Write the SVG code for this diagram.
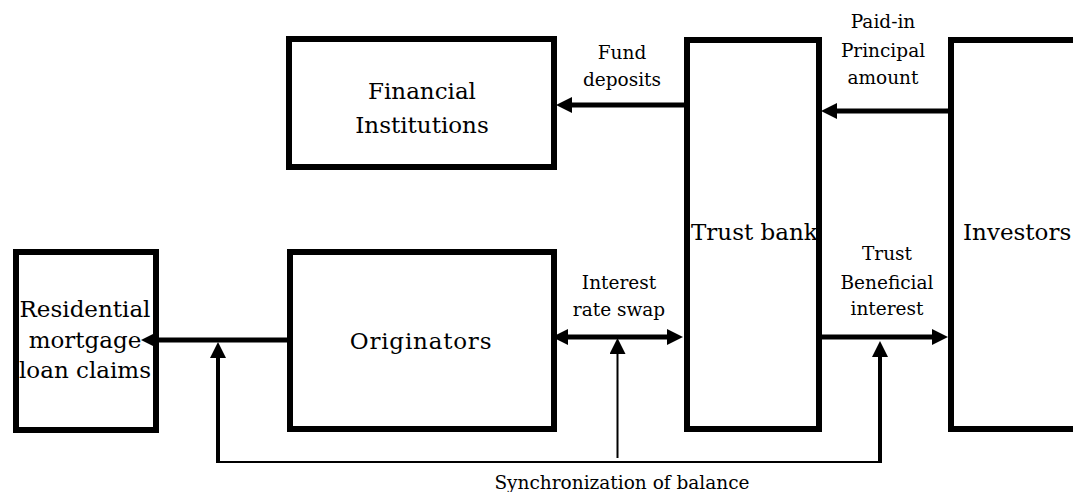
<svg xmlns="http://www.w3.org/2000/svg" width="1073" height="492" viewBox="0 0 1073 492">
<defs>
<style>
.box{fill:#fff;stroke:#000;stroke-width:6}
.big{font-family:"DejaVu Serif","Liberation Serif",serif;font-size:23px;fill:#000}
.sm{font-family:"DejaVu Serif","Liberation Serif",serif;font-size:18.5px;fill:#000;text-anchor:middle}
.c{text-anchor:middle}
.arr{fill:none;stroke:#000;stroke-width:5}
.v{fill:none;stroke:#000;stroke-width:4}
.thin{fill:none;stroke:#000;stroke-width:2}
</style>
<marker id="ah" viewBox="0 0 16 16" refX="0" refY="8" markerWidth="16" markerHeight="16" markerUnits="userSpaceOnUse" orient="auto-start-reverse">
<path d="M0,0 L16,8 L0,16 z" fill="#000"/>
</marker>
</defs>
<rect width="1073" height="492" fill="#fff"/>
<g id="residential">
<rect class="box" x="16" y="252" width="140" height="178"/>
<text class="big c" x="85" y="317" font-size="22">Residential</text>
<text class="big c" x="85" y="348" font-size="22">mortgage</text>
<text class="big c" x="85" y="378" font-size="22">loan claims</text>
</g>
<g id="originators">
<rect class="box" x="290" y="252" width="264" height="177"/>
<text class="big c" x="421" y="349" letter-spacing="0.8">Originators</text>
</g>
<g id="financial">
<rect class="box" x="289" y="39" width="265" height="128"/>
<text class="big c" x="422" y="99">Financial</text>
<text class="big c" x="422" y="133">Institutions</text>
</g>
<g id="trustbank">
<rect class="box" x="687" y="40" width="132" height="389"/>
<text class="big" x="691" y="240">Trust bank</text>
</g>
<g id="investors">
<rect class="box" x="951" y="40" width="200" height="389"/>
<text class="big" x="963" y="240" font-size="24">Investors</text>
</g>
<g id="connectors">
<path class="arr" d="M287,340 H157" marker-end="url(#ah)"/>
<path class="arr" d="M568,337 H667" marker-start="url(#ah)" marker-end="url(#ah)"/>
<path class="arr" d="M822,337 H932" marker-end="url(#ah)"/>
<path class="arr" d="M684,105 H572" marker-end="url(#ah)"/>
<path class="arr" d="M948,111 H837" marker-end="url(#ah)"/>
<path class="thin" d="M218,462 H880"/>
<path class="v" d="M218,463 V358" marker-end="url(#ah)"/>
<path class="thin" d="M617.5,458 V354" marker-end="url(#ah)"/>
<path class="v" d="M880,463 V357" marker-end="url(#ah)"/>
</g>
<g id="labels">
<text class="sm" x="622" y="59">Fund</text>
<text class="sm" x="622" y="86">deposits</text>
<text class="sm" x="883" y="28">Paid-in</text>
<text class="sm" x="883" y="57">Principal</text>
<text class="sm" x="883" y="84">amount</text>
<text class="sm" x="619" y="289">Interest</text>
<text class="sm" x="619" y="316">rate swap</text>
<text class="sm" x="887" y="260">Trust</text>
<text class="sm" x="887" y="289">Beneficial</text>
<text class="sm" x="887" y="315">interest</text>
<text class="sm" x="622" y="489">Synchronization of balance</text>
</g>
</svg>
